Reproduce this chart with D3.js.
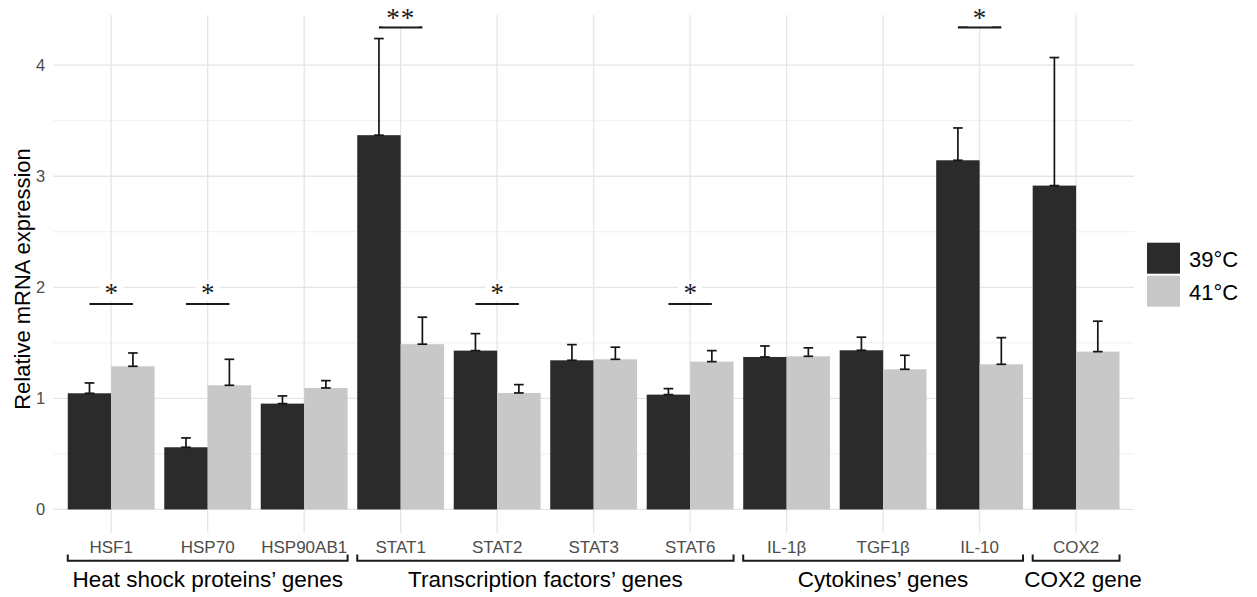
<!DOCTYPE html>
<html>
<head>
<meta charset="utf-8">
<script src="https://cdnjs.cloudflare.com/ajax/libs/d3/7.8.5/d3.min.js"></script>
<style>
    body { margin: 0; background: #fff; }
    svg  { display: block; font-family: 'Liberation Sans', Arial, sans-serif; }
</style>
</head>
<body>
<svg width="1257" height="597"></svg>
<script>
var genes     = [ 'HSF1', 'HSP70', 'HSP90AB1', 'STAT1', 'STAT2', 'STAT3', 'STAT6', 'IL-1β', 'TGF1β', 'IL-10', 'COX2' ],
    series    = [ '39°C', '41°C' ],
    mean39    = [ 1.046, 0.560, 0.953, 3.370, 1.430, 1.343, 1.034, 1.373, 1.433, 3.144, 2.916 ],
    se39      = [ 0.093, 0.084, 0.069, 0.870, 0.153, 0.141, 0.054, 0.099, 0.118, 0.291, 1.153 ],
    mean41    = [ 1.289, 1.118, 1.094, 1.488, 1.049, 1.352, 1.331, 1.379, 1.262, 1.307, 1.421 ],
    se41      = [ 0.120, 0.234, 0.066, 0.243, 0.075, 0.109, 0.099, 0.076, 0.126, 0.240, 0.274 ],
    yTicks    = [ 0, 1, 2, 3, 4 ],
    yMinor    = [ 0.5, 1.5, 2.5, 3.5 ],
    // significance brackets between the two bars of a gene
    sigGenes  = [ 'HSF1', 'HSP70', 'STAT1', 'STAT2', 'STAT6', 'IL-10' ],
    sigLabels = [ '*', '*', '**', '*', '*', '*' ],
    sigLineY  = [ 1.85, 1.85, 4.34, 1.85, 1.85, 4.34 ],
    sigTextY  = [ 1.97, 1.97, 4.44, 1.97, 1.97, 4.44 ],
    // gene groups shown under the axis
    groupNames = [ 'Heat shock proteins’ genes', 'Transcription factors’ genes', 'Cytokines’ genes', 'COX2 gene' ],
    groupFirst = [ 'HSF1', 'STAT1', 'IL-1β', 'COX2' ],
    groupLast  = [ 'HSP90AB1', 'STAT6', 'IL-10', 'COX2' ];

var colors = { '39°C' : '#2b2b2b', '41°C' : '#c8c8c8' },
    svg    = d3.select( 'svg' ),
    panel  = { left : 53.3, right : 1134, top : 15, bottom : 533 },

    x = d3.scaleBand()
        .domain( genes )
        .range( [ panel.left, panel.right ] )
        .paddingInner( 0 )
        .paddingOuter( 0.1 ),
    step = x.step(),
    xs = d3.scaleBand()
        .domain( series )
        .range( [ -0.45 * step, 0.45 * step ] ),
    y = d3.scaleLinear()
        .domain( [ -0.212, 4.452 ] )
        .range( [ panel.bottom, panel.top ] );

function center( gene ) {
    return x( gene ) + step / 2;
}

var rows = [];
genes.forEach( function( g, i ) {
    rows.push( { gene : g, s : series[ 0 ], mean : mean39[ i ], se : se39[ i ] } );
    rows.push( { gene : g, s : series[ 1 ], mean : mean41[ i ], se : se41[ i ] } );
} );

// grid
svg.append( 'g' )
    .selectAll( 'line' )
    .data( yMinor )
    .enter().append( 'line' )
    .attr( 'x1', panel.left ).attr( 'x2', panel.right )
    .attr( 'y1', function( d ) { return y( d ); } )
    .attr( 'y2', function( d ) { return y( d ); } )
    .attr( 'stroke', '#efefef' ).attr( 'stroke-width', 1 );

svg.append( 'g' )
    .selectAll( 'line' )
    .data( yTicks )
    .enter().append( 'line' )
    .attr( 'x1', panel.left ).attr( 'x2', panel.right )
    .attr( 'y1', function( d ) { return y( d ); } )
    .attr( 'y2', function( d ) { return y( d ); } )
    .attr( 'stroke', '#e5e5e5' ).attr( 'stroke-width', 1.3 );

svg.append( 'g' )
    .selectAll( 'line' )
    .data( genes )
    .enter().append( 'line' )
    .attr( 'x1', center ).attr( 'x2', center )
    .attr( 'y1', panel.top ).attr( 'y2', panel.bottom )
    .attr( 'stroke', '#e5e5e5' ).attr( 'stroke-width', 1.3 );

// bars
svg.append( 'g' )
    .selectAll( 'rect' )
    .data( rows )
    .enter().append( 'rect' )
    .attr( 'x', function( d ) { return center( d.gene ) + xs( d.s ); } )
    .attr( 'y', function( d ) { return y( d.mean ); } )
    .attr( 'width', xs.bandwidth() )
    .attr( 'height', function( d ) { return y( 0 ) - y( d.mean ); } )
    .attr( 'fill', function( d ) { return colors[ d.s ]; } );

// error bars (mean to mean + se)
var capHalf = 0.05 * step,
    err = svg.append( 'g' )
        .attr( 'stroke', '#151515' )
        .attr( 'stroke-width', 1.7 )
        .selectAll( 'g' )
        .data( rows )
        .enter().append( 'g' )
        .attr( 'transform', function( d ) {
            return 'translate(' + ( center( d.gene ) + xs( d.s ) + xs.bandwidth() / 2 ) + ',0)';
        } );

err.append( 'line' )
    .attr( 'x1', 0 ).attr( 'x2', 0 )
    .attr( 'y1', function( d ) { return y( d.mean ); } )
    .attr( 'y2', function( d ) { return y( d.mean + d.se ); } );
err.append( 'line' )
    .attr( 'x1', -capHalf ).attr( 'x2', capHalf )
    .attr( 'y1', function( d ) { return y( d.mean + d.se ); } )
    .attr( 'y2', function( d ) { return y( d.mean + d.se ); } );
err.append( 'line' )
    .attr( 'x1', -capHalf ).attr( 'x2', capHalf )
    .attr( 'y1', function( d ) { return y( d.mean ); } )
    .attr( 'y2', function( d ) { return y( d.mean ); } );

// significance marks
var starSize = 27,
    sig = svg.append( 'g' )
        .selectAll( 'g' )
        .data( sigGenes )
        .enter().append( 'g' );

sig.append( 'line' )
    .attr( 'x1', function( d ) { return center( d ) + xs( series[ 0 ] ) + xs.bandwidth() / 2; } )
    .attr( 'x2', function( d ) { return center( d ) + xs( series[ 1 ] ) + xs.bandwidth() / 2; } )
    .attr( 'y1', function( d, i ) { return y( sigLineY[ i ] ); } )
    .attr( 'y2', function( d, i ) { return y( sigLineY[ i ] ); } )
    .attr( 'stroke', '#1a1a1a' ).attr( 'stroke-width', 2.2 );

sig.append( 'rect' )
    .attr( 'x', function( d, i ) { return center( d ) - ( sigLabels[ i ].length * 12 + 12 ) / 2; } )
    .attr( 'y', function( d, i ) { return y( sigTextY[ i ] ) - 11; } )
    .attr( 'width', function( d, i ) { return sigLabels[ i ].length * 12 + 12; } )
    .attr( 'height', 21 )
    .attr( 'fill', '#fff' );

sig.append( 'text' )
    .attr( 'x', center )
    .attr( 'y', function( d, i ) { return y( sigTextY[ i ] ) + 0.41 * starSize; } )
    .attr( 'text-anchor', 'middle' )
    .attr( 'font-family', "'Liberation Serif', 'Times New Roman', serif" )
    .attr( 'font-size', starSize )
    .attr( 'letter-spacing', function( d, i ) { return sigLabels[ i ].length > 1 ? 1 : 0; } )
    .attr( 'fill', '#1a1a1a' )
    .text( function( d, i ) { return sigLabels[ i ]; } );

// axes
var yAxis = svg.append( 'g' )
    .attr( 'transform', 'translate(' + panel.left + ',0)' )
    .call( d3.axisLeft( y ).tickValues( yTicks ).tickFormat( d3.format( 'd' ) ).tickSize( 0 ).tickPadding( 8 ) );
yAxis.select( '.domain' ).remove();
yAxis.selectAll( 'text' )
    .attr( 'font-size', 16.5 )
    .attr( 'font-family', "'Liberation Sans', Arial, sans-serif" )
    .attr( 'fill', '#4d4d4d' );

var xAxis = svg.append( 'g' )
    .attr( 'transform', 'translate(0,540)' )
    .call( d3.axisBottom( x ).tickSize( 0 ).tickPadding( 0 ) );
xAxis.select( '.domain' ).remove();
xAxis.selectAll( 'text' )
    .attr( 'dy', null )
    .attr( 'y', 13.3 )
    .attr( 'font-size', 17 )
    .attr( 'font-family', "'Liberation Sans', Arial, sans-serif" )
    .attr( 'fill', '#4d4d4d' );

svg.append( 'text' )
    .attr( 'transform', 'translate(29.5,279) rotate(-90)' )
    .attr( 'text-anchor', 'middle' )
    .attr( 'font-size', 22 )
    .attr( 'fill', '#000' )
    .text( 'Relative mRNA expression' );

// group brackets under the axis
var groups = svg.append( 'g' )
    .selectAll( 'g' )
    .data( groupNames )
    .enter().append( 'g' );

groups.append( 'path' )
    .attr( 'd', function( d, i ) {
        var x0 = center( groupFirst[ i ] ) - 0.45 * step,
            x1 = center( groupLast[ i ] ) + 0.45 * step;
        return 'M' + x0 + ',554.5V560.7H' + x1 + 'V554.5';
    } )
    .attr( 'fill', 'none' )
    .attr( 'stroke', '#1a1a1a' )
    .attr( 'stroke-width', 2 );

groups.append( 'text' )
    .attr( 'x', function( d, i ) {
        return ( center( groupFirst[ i ] ) + center( groupLast[ i ] ) ) / 2 + ( i === 3 ? 7 : 0 );
    } )
    .attr( 'y', 586.7 )
    .attr( 'text-anchor', 'middle' )
    .attr( 'font-size', 22.5 )
    .attr( 'fill', '#000' )
    .text( function( d ) { return d; } );

// legend
var legend = svg.append( 'g' )
    .attr( 'transform', 'translate(1147,242.7)' )
    .selectAll( 'g' )
    .data( series )
    .enter().append( 'g' )
    .attr( 'transform', function( d, i ) { return 'translate(0,' + ( i * 33 ) + ')'; } );

legend.append( 'rect' )
    .attr( 'width', 33 )
    .attr( 'height', 31 )
    .attr( 'fill', function( d ) { return colors[ d ]; } );

legend.append( 'text' )
    .attr( 'x', 42 )
    .attr( 'y', 24.5 )
    .attr( 'font-size', 22 )
    .attr( 'fill', '#000' )
    .text( function( d ) { return d; } );
</script>
</body>
</html>
